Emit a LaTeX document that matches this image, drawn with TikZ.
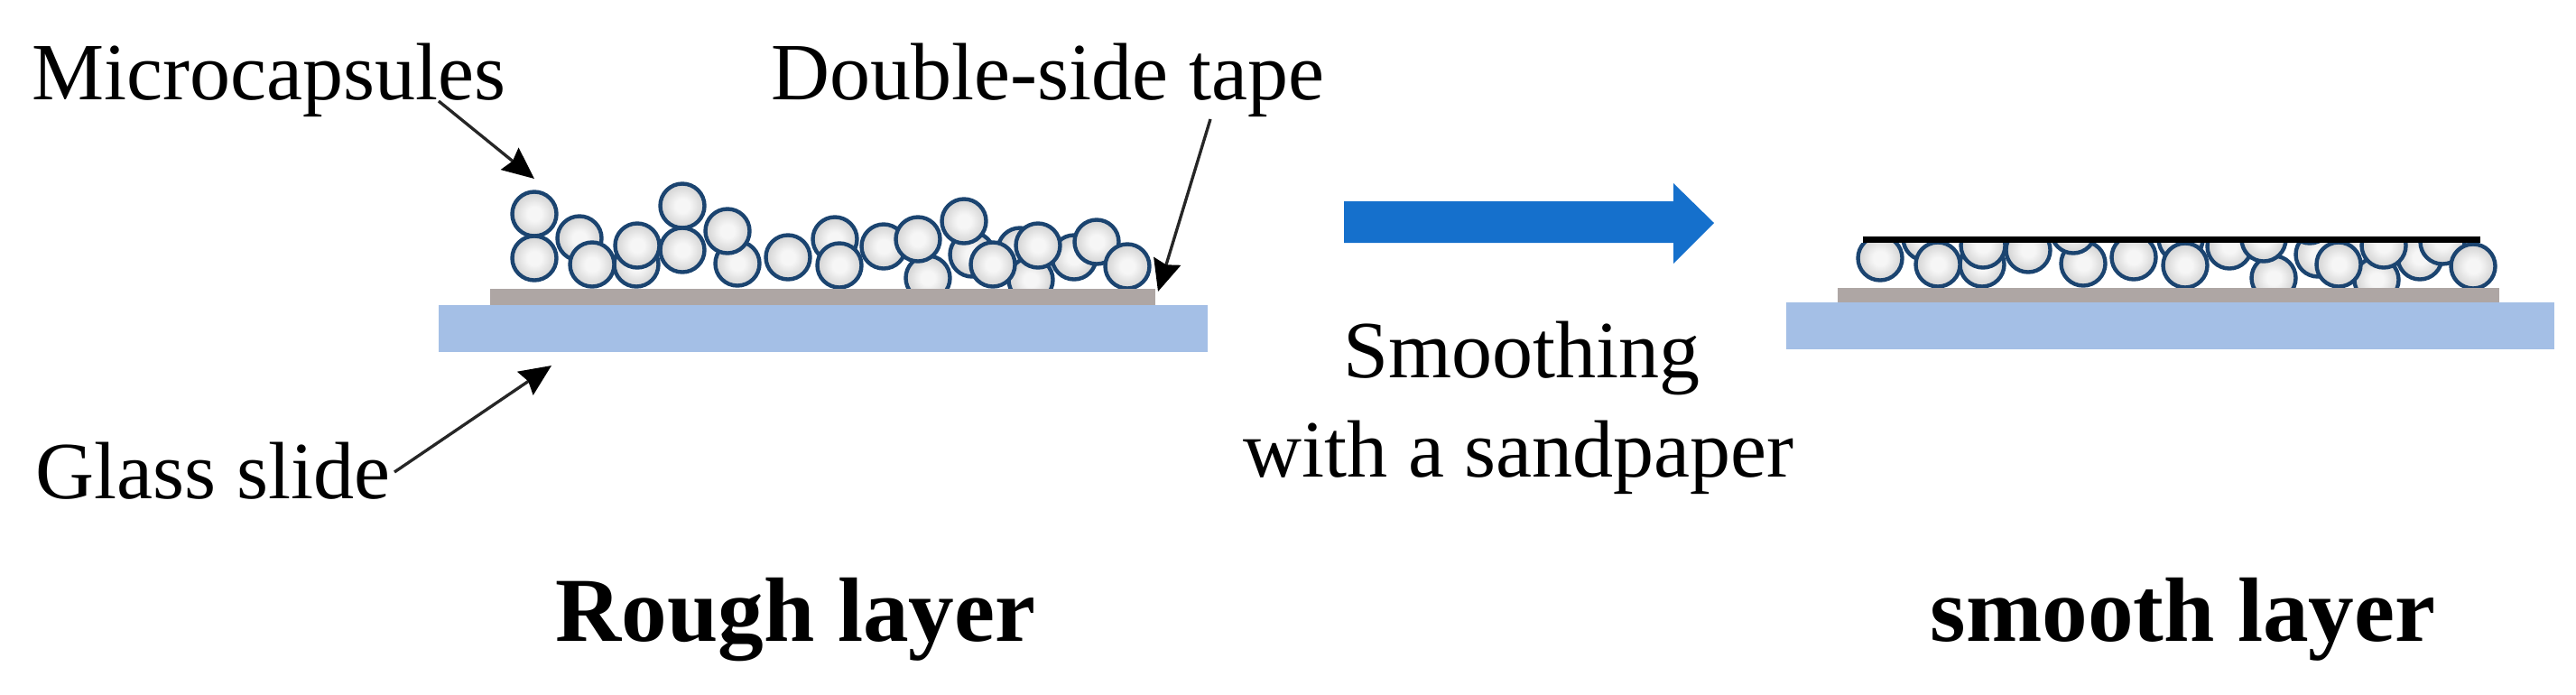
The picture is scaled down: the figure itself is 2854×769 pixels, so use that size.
\documentclass[tikz,border=0pt]{standalone}
\usepackage{fontspec}
\setmainfont{Liberation Serif}
\usetikzlibrary{arrows.meta}
\definecolor{glass}{HTML}{A4BFE6}
\definecolor{tapecol}{HTML}{AEA6A4}
\definecolor{ringcol}{HTML}{1B4470}
\definecolor{flow}{HTML}{1570CC}
\definecolor{ballin}{HTML}{F6F6F6}
\definecolor{ballout}{HTML}{D2D2D2}
\pgfdeclareradialshading{capsuleshade}{\pgfpoint{0bp}{0bp}}{color(0bp)=(ballin); color(8bp)=(ballin); color(25bp)=(ballout); color(50bp)=(ballout)}
\tikzset{
  x=0.01cm,y=-0.01cm,
  label/.style={anchor=base west,inner sep=0pt,font=\fontsize{25.6pt}{30pt}\selectfont},
  title/.style={anchor=base west,inner sep=0pt,font=\fontsize{28.8pt}{34pt}\selectfont\bfseries},
  glassbar/.style={fill=glass,draw=none},
  tapebar/.style={fill=tapecol,draw=none},
  capsule/.style={draw=ringcol,line width=1.25pt,shading=capsuleshade},
  pointer/.style={draw=black!85,line width=0.95pt,-{Stealth[length=0.35cm,width=0.31cm,inset=0.04cm,color=black]}}
}
\newcommand{\backballs}{642/264,705/293,817/292,925/265,1028/308,1077/282,1130/277,1142/310,1190/285}
\newcommand{\frontballs}{592/237,592/286,656/293,706/272,756/228,756/277,806/256,873/285,930/294,979/273,1017/265,1068/245,1100/293,1150/272,1215/268,1249/295}
\begin{document}
\begin{tikzpicture}
\useasboundingbox (0,0) rectangle (2854,769);
% left panel
\foreach \a/\b in \backballs {\path[capsule,draw] (\a,\b) circle[radius=0.245cm];}
\foreach \a/\b in \frontballs {\path[capsule,draw] (\a,\b) circle[radius=0.245cm];}
\fill[tapebar] (543,320) rectangle (1280,338);
\fill[glassbar] (486,338) rectangle (1338,390);
% right panel
\begin{scope}
\clip (1979,269) rectangle (2830,340);
\foreach \a/\b in \backballs {\path[capsule,draw] ({\a+1491},\b) circle[radius=0.245cm];}
\foreach \a/\b in \frontballs {\path[capsule,draw] ({\a+1491},\b) circle[radius=0.245cm];}
\end{scope}
\fill[tapebar] (2036,319) rectangle (2769,335);
\fill[glassbar] (1979,335) rectangle (2830,387);
\fill[black] (2064,262) rectangle (2748,269);
% block arrow
\fill[flow] (1489,223) -- (1854,223) -- (1854,203) -- (1899,247) -- (1854,292) -- (1854,269) -- (1489,269) -- cycle;
% labels
\node[label] (micro) at (35,110) {Microcapsules};
\node[label] (tape) at (854,110) {Double-side tape};
\node[label] (glasslabel) at (39,552) {Glass slide};
\node[label] (smooth1) at (1488,418) {Smoothing};
\node[label] (smooth2) at (1377,528) {with a sandpaper};
\node[title] (rough) at (615,710) {Rough layer};
\node[title] (smooth) at (2138,710) {smooth layer};
% connectors
\coordinate (microtail) at (486,112);
\coordinate (microtip) at (592,198);
\coordinate (tapetail) at (1341,132);
\coordinate (tapetip) at (1283,323);
\coordinate (glasstail) at (437,523);
\coordinate (glasstip) at (611,405);
\draw[pointer] (microtail) -- (microtip);
\draw[pointer] (tapetail) -- (tapetip);
\draw[pointer] (glasstail) -- (glasstip);
\end{tikzpicture}
\end{document}
